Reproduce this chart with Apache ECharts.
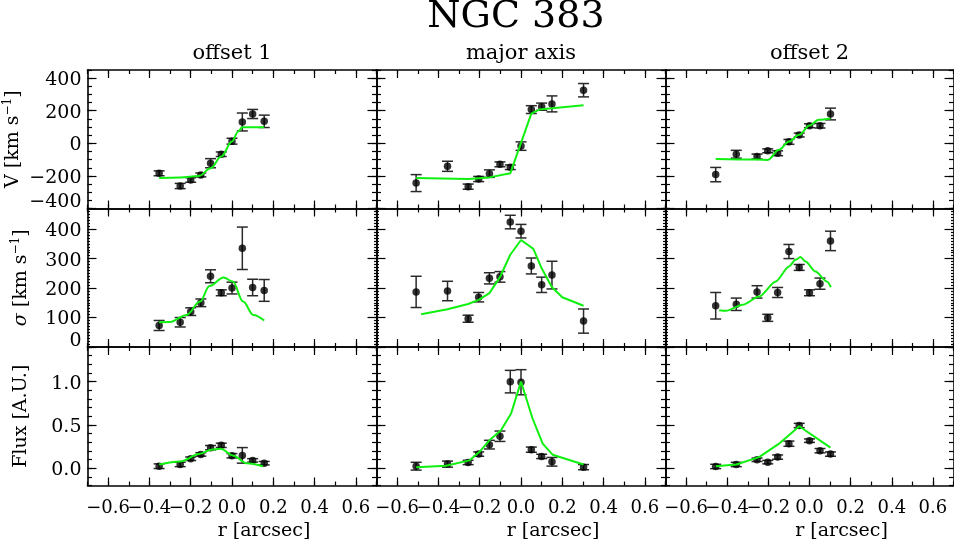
<!DOCTYPE html>
<html>
<head>
<meta charset="utf-8">
<title>NGC 383</title>
<script src="https://cdn.jsdelivr.net/npm/echarts@6/dist/echarts.min.js"></script>
<style>
  html, body { margin: 0; padding: 0; background: #ffffff; }
  #chart { width: 954px; height: 550px; }
</style>
</head>
<body>
<div id="chart"></div>
<script>
// Slit positions of the extracted spectra (arcsec)
const rOffset1 = [-0.353, -0.251, -0.200, -0.151, -0.104, -0.052, 0.000, 0.050, 0.100, 0.156];
const rMajor   = [-0.508, -0.356, -0.256, -0.205, -0.153, -0.102, -0.052, 0.000, 0.050, 0.100, 0.150, 0.303];
const rOffset2 = [-0.456, -0.356, -0.255, -0.203, -0.155, -0.100, -0.050, 0.000, 0.051, 0.102];

// Line-of-sight velocity V (km/s) and 1-sigma errors
const vOffset1    = [-184, -262, -225, -194, -122, -67, 13, 131, 180, 135];
const vErrOffset1 = [15, 16, 14, 12, 28, 14, 18, 55, 28, 38];
const vMajor      = [-244, -141, -266, -219, -186, -129, -147, -17, 207, 225, 242, 326];
const vErrMajor   = [52, 31, 16, 16, 23, 15, 14, 26, 24, 22, 49, 41];
const vOffset2    = [-192, -67, -81, -46, -61, 9, 51, 108, 108, 180];
const vErrOffset2 = [44, 24, 15, 12, 15, 15, 12, 12, 14, 36];

// Velocity dispersion sigma (km/s) and errors
const sOffset1    = [73, 84, 120, 150, 240, 184, 200, 335, 202, 192];
const sErrOffset1 = [17, 16, 13, 13, 22, 10, 20, 72, 28, 37];
const sMajor      = [187, 190, 96, 169, 233, 238, 424, 393, 275, 211, 244, 88];
const sErrMajor   = [53, 33, 12, 16, 19, 18, 23, 23, 27, 26, 47, 41];
const sOffset2    = [140, 145, 187, 99, 185, 324, 270, 184, 215, 360];
const sErrOffset2 = [45, 21, 21, 12, 17, 24, 10, 10, 19, 33];

// Line flux (arbitrary units) and errors
const fOffset1    = [0.023, 0.043, 0.109, 0.159, 0.237, 0.264, 0.144, 0.148, 0.090, 0.058];
const fErrOffset1 = [0.027, 0.025, 0.020, 0.020, 0.025, 0.025, 0.025, 0.090, 0.020, 0.020];
const fMajor      = [0.023, 0.047, 0.066, 0.163, 0.272, 0.369, 1.000, 0.993, 0.214, 0.136, 0.074, 0.012];
const fErrMajor   = [0.045, 0.035, 0.025, 0.025, 0.050, 0.060, 0.130, 0.145, 0.030, 0.025, 0.050, 0.030];
const fOffset2    = [0.020, 0.043, 0.097, 0.070, 0.128, 0.283, 0.493, 0.318, 0.202, 0.163];
const fErrOffset2 = [0.025, 0.025, 0.020, 0.020, 0.025, 0.030, 0.025, 0.020, 0.025, 0.025];

// Disc model predictions
const vModelROffset1 = [-0.353, -0.251, -0.160, -0.104, -0.052, 0.000, 0.030, 0.050, 0.156];
const vModelOffset1  = [-213, -209, -200, -153, -81, 11, 73, 98, 98];
const vModelRMajor   = [-0.508, -0.256, -0.153, -0.052, 0.050, 0.088, 0.303];
const vModelMajor    = [-213, -219, -209, -184, 182, 207, 233];
const vModelROffset2 = [-0.456, -0.255, -0.203, -0.148, -0.100, -0.050, 0.000, 0.045, 0.102];
const vModelOffset2  = [-96, -100, -102, -40, 11, 52, 110, 145, 153];

const sModelROffset1 = [-0.353, -0.300, -0.220, -0.155, -0.109, -0.041, 0.004, 0.054, 0.103, 0.156];
const sModelOffset1  = [84, 85, 109, 154, 207, 236, 222, 154, 109, 90];
const sModelRMajor   = [-0.484, -0.356, -0.256, -0.205, -0.153, -0.102, -0.052, 0.000, 0.060, 0.100, 0.150, 0.200, 0.303];
const sModelMajor    = [111, 128, 146, 160, 183, 237, 313, 363, 333, 267, 203, 169, 140];
const sModelROffset2 = [-0.439, -0.406, -0.326, -0.245, -0.164, -0.100, -0.068, -0.044, -0.019, 0.029, 0.085, 0.104];
const sModelOffset2  = [125, 123, 143, 171, 222, 273, 296, 305, 290, 256, 222, 203];

const fModelROffset1 = [-0.353, -0.251, -0.155, -0.100, -0.055, 0.004, 0.070, 0.150];
const fModelOffset1  = [0.043, 0.078, 0.167, 0.214, 0.225, 0.148, 0.058, 0.023];
const fModelRMajor   = [-0.508, -0.363, -0.250, -0.202, -0.153, -0.097, -0.048, 0.000, 0.056, 0.105, 0.153, 0.303];
const fModelMajor    = [0.012, 0.028, 0.090, 0.186, 0.322, 0.438, 0.632, 1.000, 0.574, 0.284, 0.156, 0.043];
const fModelROffset2 = [-0.456, -0.356, -0.245, -0.148, -0.050, 0.102];
const fModelOffset2  = [0.023, 0.043, 0.128, 0.283, 0.485, 0.237];

// Tick values and labels
const rTicks      = [-0.6, -0.4, -0.2, 0.0, 0.2, 0.4, 0.6];
const rLabelsEven = [-0.6, -0.2, 0.2, 0.6];   // drawn by the major axis
const rLabelsOdd  = [-0.4, 0.0, 0.4];         // drawn by the companion axis
const vTicks    = [-400, -200, 0, 200, 400];
const sTicks    = [0, 100, 200, 300, 400];
const fTicks    = [0.0, 0.5, 1.0];
const colTitles = ['offset 1', 'major axis', 'offset 2'];
const mainTitle = 'NGC 383';
const xTitle    = 'r [arcsec]';

// ---- layout & styling ----
const FONT = 'DejaVu Serif';
const INK = '#000000';
const MODEL_GREEN = '#10f010';
const colLeft = [87.5, 376.5, 665.5];
const colWidth = [289, 289, 288];
const rowTop = [70, 208.5, 347];
const rowHeight = 138.5;

const minus = s => s.replace('-', '\u2212');
const rows = [
  { min: -400, max: 450, ticks: vTicks, minorStep: 50, minorLen: 4.5,
    fmt: v => minus(String(v)), name: 'V [km s{sup|\u22121}]' },
  { min: 0, max: 470, ticks: sTicks, minorStep: 10, minorLen: 2.5,
    fmt: v => String(v), name: '{it|\u03c3} [km s{sup|\u22121}]' },
  { min: -0.2, max: 1.4, ticks: fTicks, minorStep: 0.1, minorLen: 4.5,
    fmt: v => v.toFixed(1), name: 'Flux [A.U.]' }
];

const panels = [
  [ { r: rOffset1, y: vOffset1, e: vErrOffset1, mr: vModelROffset1, my: vModelOffset1, smooth: 0.35 },
    { r: rMajor,   y: vMajor,   e: vErrMajor,   mr: vModelRMajor,   my: vModelMajor,   smooth: false },
    { r: rOffset2, y: vOffset2, e: vErrOffset2, mr: vModelROffset2, my: vModelOffset2, smooth: 0.35 } ],
  [ { r: rOffset1, y: sOffset1, e: sErrOffset1, mr: sModelROffset1, my: sModelOffset1, smooth: 0.35 },
    { r: rMajor,   y: sMajor,   e: sErrMajor,   mr: sModelRMajor,   my: sModelMajor,   smooth: false },
    { r: rOffset2, y: sOffset2, e: sErrOffset2, mr: sModelROffset2, my: sModelOffset2, smooth: 0.25 } ],
  [ { r: rOffset1, y: fOffset1, e: fErrOffset1, mr: fModelROffset1, my: fModelOffset1, smooth: 0.35 },
    { r: rMajor,   y: fMajor,   e: fErrMajor,   mr: fModelRMajor,   my: fModelMajor,   smooth: false },
    { r: rOffset2, y: fOffset2, e: fErrOffset2, mr: fModelROffset2, my: fModelOffset2, smooth: false } ]
];

const frameLine = { show: true, onZero: false, lineStyle: { color: INK, width: 1.6 } };
const hiddenLine = { show: false, onZero: false };
const tickLine = { color: INK, width: 1.2 };

const grid = [], xAxis = [], yAxis = [], series = [];

function rLabel(values, show) {
  return {
    show, customValues: values, margin: 14,
    showMinLabel: true, showMaxLabel: true, hideOverlap: false,
    fontFamily: FONT, fontSize: 18, color: INK,
    formatter: v => minus(v.toFixed(1))
  };
}

function xAxesFor(g, row, col) {
  const base = { gridIndex: g, type: 'value', min: -0.7, max: 0.7, splitLine: { show: false } };
  const isBottomRow = row === 2;
  const isTopRow = row === 0;
  const bottomMajor = Object.assign({}, base, {
    position: 'bottom',
    axisLine: frameLine,
    axisTick: { show: true, inside: true, length: 8, customValues: rTicks, lineStyle: tickLine },
    axisLabel: rLabel(rLabelsEven, isBottomRow)
  });
  if (isBottomRow) {
    Object.assign(bottomMajor, {
      name: xTitle, nameLocation: 'middle', nameGap: 36,
      nameTextStyle: { fontFamily: FONT, fontSize: 19, color: INK, padding: [0, 0, 0, 64] }
    });
  }
  const bottomMinor = Object.assign({}, base, {
    position: 'bottom', interval: 0.1,
    axisLine: hiddenLine,
    axisTick: { show: true, inside: true, length: 4, lineStyle: tickLine },
    axisLabel: rLabel(rLabelsOdd, isBottomRow)
  });
  const topMajor = Object.assign({}, base, {
    position: 'top',
    axisLine: frameLine,
    axisTick: { show: true, inside: true, length: 8, customValues: rTicks, lineStyle: tickLine },
    axisLabel: { show: false }
  });
  if (isTopRow) {
    Object.assign(topMajor, {
      name: colTitles[col], nameLocation: 'middle', nameGap: 6,
      nameTextStyle: { fontFamily: FONT, fontSize: 21, color: INK, verticalAlign: 'bottom' }
    });
  }
  const topMinor = Object.assign({}, bottomMinor, { position: 'top', axisLabel: { show: false } });
  return [bottomMajor, bottomMinor, topMajor, topMinor];
}

function yAxesFor(g, row, col) {
  const R = rows[row];
  const base = { gridIndex: g, type: 'value', min: R.min, max: R.max, splitLine: { show: false } };
  const leftMajor = Object.assign({}, base, {
    position: 'left',
    axisLine: frameLine,
    axisTick: { show: true, inside: true, length: 9, customValues: R.ticks, lineStyle: tickLine },
    axisLabel: {
      show: col === 0, customValues: R.ticks, margin: 6,
      showMinLabel: true, showMaxLabel: true, hideOverlap: false,
      fontFamily: FONT, fontSize: 19, color: INK,
      formatter: v => (v === R.min ? '{lo|' : '{n|') + R.fmt(v) + '}',
      rich: { n: { padding: [4, 0, 0, 0] }, lo: { padding: [0, 0, 12, 0] } }
    }
  });
  if (col === 0) {
    Object.assign(leftMajor, {
      name: R.name, nameLocation: 'middle', nameGap: 54,
      nameTextStyle: {
        fontFamily: FONT, fontSize: 19, color: INK, lineHeight: 24,
        rich: {
          sup: { fontFamily: FONT, fontSize: 12, verticalAlign: 'top', lineHeight: 14 },
          it: { fontFamily: FONT, fontSize: 19, fontStyle: 'italic' }
        }
      }
    });
  }
  const leftMinor = Object.assign({}, base, {
    position: 'left', interval: R.minorStep,
    axisLine: hiddenLine,
    axisTick: { show: true, inside: true, length: R.minorLen, lineStyle: tickLine },
    axisLabel: { show: false }
  });
  const rightMajor = Object.assign({}, base, {
    position: 'right',
    axisLine: frameLine,
    axisTick: { show: true, inside: true, length: 9, customValues: R.ticks, lineStyle: tickLine },
    axisLabel: { show: false }
  });
  const rightMinor = Object.assign({}, leftMinor, { position: 'right' });
  return [leftMajor, leftMinor, rightMajor, rightMinor];
}

function errorBars(params, api) {
  const x = api.value(0), y = api.value(1), e = api.value(2);
  const lo = api.coord([x, y - e]);
  const hi = api.coord([x, y + e]);
  const w = 5.5;
  const style = { stroke: '#2a2a2a', lineWidth: 1.5 };
  return {
    type: 'group',
    children: [
      { type: 'line', shape: { x1: lo[0], y1: lo[1], x2: hi[0], y2: hi[1] }, style },
      { type: 'line', shape: { x1: lo[0] - w, y1: lo[1], x2: lo[0] + w, y2: lo[1] }, style },
      { type: 'line', shape: { x1: hi[0] - w, y1: hi[1], x2: hi[0] + w, y2: hi[1] }, style }
    ]
  };
}

for (let row = 0; row < 3; row++) {
  for (let col = 0; col < 3; col++) {
    const g = row * 3 + col;
    grid.push({ left: colLeft[col], top: rowTop[row], width: colWidth[col], height: rowHeight });
    xAxis.push(...xAxesFor(g, row, col));
    yAxis.push(...yAxesFor(g, row, col));
    const P = panels[row][col];
    const xi = g * 4, yi = g * 4;
    series.push({
      type: 'custom', xAxisIndex: xi, yAxisIndex: yi,
      renderItem: errorBars,
      encode: { x: 0, y: 1 },
      data: P.r.map((r, i) => [r, P.y[i], P.e[i]]),
      z: 3, silent: true
    });
    series.push({
      type: 'scatter', xAxisIndex: xi, yAxisIndex: yi,
      symbol: 'circle', symbolSize: 7.5,
      itemStyle: { color: '#000000' },
      data: P.r.map((r, i) => [r, P.y[i]]),
      z: 4, silent: true
    });
    series.push({
      type: 'line', xAxisIndex: xi, yAxisIndex: yi,
      showSymbol: false, smooth: P.smooth, smoothMonotone: 'x',
      lineStyle: { color: MODEL_GREEN, width: 2 },
      data: P.mr.map((r, i) => [r, P.my[i]]),
      z: 5, silent: true
    });
  }
}

const chart = echarts.init(document.getElementById('chart'), null, { renderer: 'canvas' });
chart.setOption({
  animation: false,
  backgroundColor: '#ffffff',
  grid, xAxis, yAxis, series,
  graphic: [{
    type: 'text', x: 516, y: 17,
    style: { text: mainTitle, fontFamily: FONT, fontSize: 38, fill: INK, align: 'center', verticalAlign: 'middle' }
  }]
});
</script>
</body>
</html>
